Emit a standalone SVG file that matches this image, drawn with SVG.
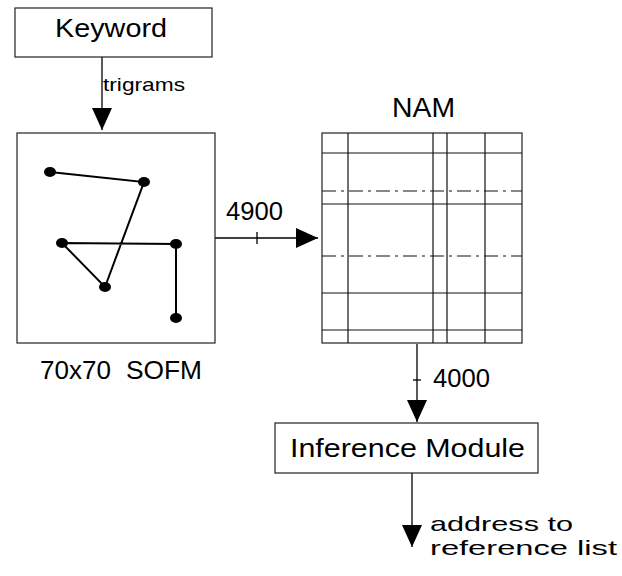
<svg xmlns="http://www.w3.org/2000/svg" width="622" height="576" viewBox="0 0 622 576">
<style>
.box{fill:#fff;stroke:#222;stroke-width:1.2}
.t{font-family:"Liberation Sans",Arial,sans-serif;fill:#000}
.ln{stroke:#000;stroke-width:1.3;fill:none}
.g{stroke:#111;stroke-width:1.2}
.gd{stroke:#111;stroke-width:1.2;stroke-dasharray:14 5 3 5}
.dot{fill:#000}
.som{stroke:#000;stroke-width:2;fill:none}
</style>
<defs>
<marker id="ah" viewBox="0 0 22 20" refX="22" refY="10" markerWidth="22" markerHeight="20" markerUnits="userSpaceOnUse" orient="auto">
<path d="M0,0 L22,10 L0,20 Z" fill="#000"/>
</marker>
</defs>
<rect width="622" height="576" fill="#fff"/>

<g id="connectors">
<line class="ln" x1="102" y1="57" x2="102" y2="130" marker-end="url(#ah)"/>
<line class="ln" x1="215" y1="238" x2="318" y2="238" marker-end="url(#ah)"/>
<line class="ln" x1="257" y1="232" x2="257" y2="244"/>
<line class="ln" x1="417" y1="344" x2="417" y2="422" marker-end="url(#ah)"/>
<line class="ln" x1="413" y1="380" x2="421" y2="380"/>
<line class="ln" x1="412" y1="473" x2="412" y2="547" marker-end="url(#ah)"/>
<text class="t" x="103" y="91" font-size="19" textLength="82" lengthAdjust="spacingAndGlyphs">trigrams</text>
<text class="t" x="226" y="220" font-size="25" textLength="57" lengthAdjust="spacingAndGlyphs">4900</text>
<text class="t" x="433" y="387" font-size="25" textLength="57" lengthAdjust="spacingAndGlyphs">4000</text>
<text class="t" x="430" y="531" font-size="21" textLength="143" lengthAdjust="spacingAndGlyphs">address to</text>
<text class="t" x="430" y="555" font-size="21" textLength="187" lengthAdjust="spacingAndGlyphs">reference list</text>
</g>

<g id="keyword">
<rect class="box" x="15" y="8" width="197" height="49"/>
<text class="t" x="55" y="37" font-size="25" textLength="112" lengthAdjust="spacingAndGlyphs">Keyword</text>
</g>

<g id="sofm">
<rect class="box" x="17" y="133" width="198" height="210"/>
<polyline class="som" points="50,172 144,182 105,287 62,243 176,244 176,318"/>
<ellipse class="dot" cx="50" cy="172" rx="6" ry="5"/>
<ellipse class="dot" cx="144" cy="182" rx="6" ry="5"/>
<ellipse class="dot" cx="62" cy="243" rx="6" ry="5"/>
<ellipse class="dot" cx="176" cy="244" rx="6" ry="5"/>
<ellipse class="dot" cx="105" cy="287" rx="6" ry="5"/>
<ellipse class="dot" cx="176" cy="318" rx="6" ry="5"/>
<text class="t" x="40" y="379" font-size="25" textLength="71" lengthAdjust="spacingAndGlyphs">70x70</text>
<text class="t" x="126" y="379" font-size="25" textLength="76" lengthAdjust="spacingAndGlyphs">SOFM</text>
</g>

<g id="nam">
<text class="t" x="392" y="117" font-size="28" textLength="63" lengthAdjust="spacingAndGlyphs">NAM</text>
<rect class="box" x="322" y="133" width="200" height="210"/>
<line class="g" x1="348" y1="133" x2="348" y2="343"/>
<line class="g" x1="433" y1="133" x2="433" y2="343"/>
<line class="g" x1="447" y1="133" x2="447" y2="343"/>
<line class="g" x1="485" y1="133" x2="485" y2="343"/>
<line class="g" x1="322" y1="153" x2="522" y2="153"/>
<line class="gd" x1="322" y1="191" x2="522" y2="191"/>
<line class="g" x1="322" y1="204" x2="522" y2="204"/>
<line class="gd" x1="322" y1="256" x2="522" y2="256"/>
<line class="g" x1="322" y1="293" x2="522" y2="293"/>
<line class="g" x1="322" y1="330" x2="522" y2="330"/>
</g>

<g id="inference">
<rect class="box" x="275" y="423" width="263" height="50"/>
<text class="t" x="290" y="457" font-size="25" textLength="235" lengthAdjust="spacingAndGlyphs">Inference Module</text>
</g>
</svg>
